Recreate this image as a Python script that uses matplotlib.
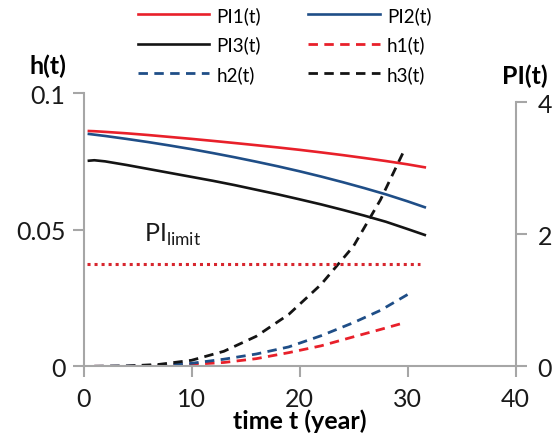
import matplotlib
matplotlib.use("Agg")
from matplotlib import pyplot as plt

# values
t_pi = [0.5, 1, 2, 4, 6, 8, 10, 12, 14, 16, 18, 20, 22, 24, 26, 28, 30, 31.6]
pi1 = [3.565, 3.562, 3.552, 3.53, 3.504, 3.475, 3.446, 3.415, 3.383, 3.35,
       3.316, 3.28, 3.241, 3.20, 3.156, 3.11, 3.06, 3.015]
pi2 = [3.52, 3.51, 3.49, 3.445, 3.397, 3.345, 3.29, 3.23, 3.167, 3.10,
       3.03, 2.955, 2.875, 2.79, 2.70, 2.605, 2.50, 2.41]
pi3 = [3.115, 3.122, 3.105, 3.05, 2.99, 2.93, 2.87, 2.81, 2.745, 2.675,
       2.605, 2.53, 2.453, 2.37, 2.283, 2.19, 2.08, 1.99]

t_h = [1, 4, 7, 10, 13, 16, 19, 22, 25, 27.5]
h1 = [0, 0.0, 0.0002, 0.0007, 0.0014, 0.0028, 0.0050, 0.0075, 0.0108, 0.0135]
h2 = [0, 0.0001, 0.0003, 0.0011, 0.0026, 0.0045, 0.0071, 0.0112, 0.0160, 0.0205]
h3 = [0, 0.0001, 0.0007, 0.0022, 0.0055, 0.011, 0.019, 0.030, 0.044, 0.061]
t_end = [29.3, 30.1, 29.8]
h_end = [0.0155, 0.0265, 0.080]

pi_limit = 1.555
t_limit = [0.35, 31.2]

x_ticks = [0, 10, 20, 30, 40]
h_ticks = [0, 0.05, 0.1]
h_labels = ["0", "0.05", "0.1"]
pi_ticks = [0, 2, 4]

RED = "#E8202A"
BLUE = "#1F4E87"
BLACK = "#141414"
GRAY = "#A6A6A6"
TXT = "#1a1a1a"

plt.rcParams["font.family"] = ["Lato", "DejaVu Sans"]
plt.rcParams["mathtext.fontset"] = "custom"
plt.rcParams["mathtext.rm"] = "Lato"

fig = plt.figure(figsize=(5.54, 4.39), dpi=100)
ax = fig.add_axes([83.5 / 554, 1 - 367.3 / 439, 432 / 554, 273 / 439])
ax2 = ax.twinx()

dash = (0, (3.4, 2.3))
p1, = ax2.plot(t_pi, pi1, color=RED, lw=1.9, label="PI1(t)")
p2, = ax2.plot(t_pi, pi2, color=BLUE, lw=1.9, label="PI2(t)")
p3, = ax2.plot(t_pi, pi3, color=BLACK, lw=1.9, label="PI3(t)")
l1, = ax.plot(t_h + [t_end[0]], h1 + [h_end[0]], color=RED, lw=2, ls=dash, label="h1(t)")
l2, = ax.plot(t_h + [t_end[1]], h2 + [h_end[1]], color=BLUE, lw=2, ls=dash, label="h2(t)")
l3, = ax.plot(t_h + [t_end[2]], h3 + [h_end[2]], color=BLACK, lw=2, ls=dash, label="h3(t)")
ax2.plot(t_limit, [pi_limit, pi_limit], color="#D7262E", lw=2.2, ls=(0, (1, 1.3)))

ax.set_xlim(0, 40)
ax.set_ylim(0, 0.1)
ax2.set_ylim(0, 4 * 273 / 264)

for a in (ax, ax2):
    for s in a.spines.values():
        s.set_color(GRAY)
        s.set_linewidth(1.5)
    a.spines["top"].set_visible(False)
ax.spines["right"].set_visible(False)
ax2.spines["left"].set_visible(False)
ax2.spines["bottom"].set_visible(False)
ax.spines["left"].set_bounds(0, 0.1)
ax2.spines["right"].set_bounds(0, 4)

ax.set_xticks(x_ticks)
ax.set_yticks(h_ticks)
ax.set_yticklabels(h_labels)
ax2.set_yticks(pi_ticks)
ax.tick_params(axis="both", colors=GRAY, width=1.5, length=8, labelsize=18,
               labelcolor=TXT)
ax.tick_params(axis="x", pad=7)
ax.tick_params(axis="y", pad=5)
ax2.tick_params(axis="y", colors=GRAY, width=1.5, length=8, labelsize=18,
                labelcolor=TXT, pad=8)

ax.set_xlabel("time t (year)", fontsize=18, fontweight="bold", labelpad=-1)
fig.text(48 / 554, 1 - 66 / 439, "h(t)", fontsize=18, fontweight="bold",
         ha="center", va="center")
fig.text(525 / 554, 1 - 76 / 439, "PI(t)", fontsize=18, fontweight="bold",
         ha="center", va="center")
ax.text(5.6, 0.0485, r"PI$_{\mathrm{limit}}$", fontsize=18, color=TXT,
        va="center")

# row-major order like the reference: PI1 PI2 / PI3 h1 / h2 h3
fig.legend(handles=[p1, p3, l2, p2, l1, l3], loc="upper left",
           bbox_to_anchor=(138 / 554, 1 - 7 / 439),
           ncol=2, frameon=False, fontsize=13.5, handlelength=3.8,
           handletextpad=0.4, columnspacing=2.5, labelspacing=0.62,
           borderaxespad=0.0, borderpad=0.0)

fig.savefig("out.png", dpi=100)
